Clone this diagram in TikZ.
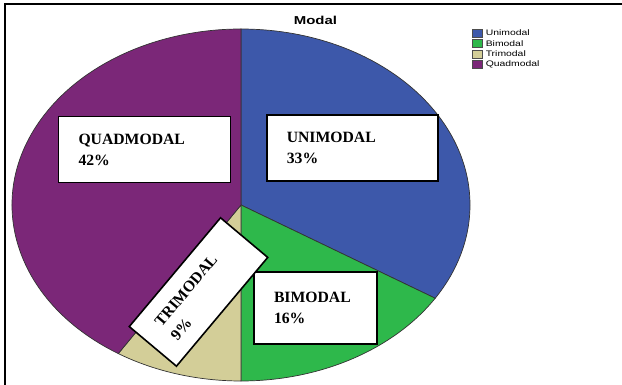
\documentclass[tikz,border=0pt]{standalone}
\usepackage{fontspec}
\setmainfont{Liberation Serif}
\newfontfamily\legfont{Liberation Sans}
\usepackage{xcolor}
\usepackage{tikz}

\definecolor{unicol}{HTML}{3D58AA}
\definecolor{bicol}{HTML}{2EB84B}
\definecolor{tricol}{HTML}{D3CE98}
\definecolor{quadcol}{HTML}{7B2778}

\begin{document}
\begin{tikzpicture}[x=1pt,y=1pt,
  slice/.style={draw=black!80,line width=0.7pt},
  labelbox/.style={draw,fill=white,line width=1.6pt,align=left,inner xsep=20pt,inner ysep=2pt,
    font=\bfseries\fontsize{15.7}{21}\selectfont},
  legbox/.style={draw=black!70,line width=0.5pt,minimum width=10pt,minimum height=8pt,inner sep=0pt},
  legtext/.style={anchor=west,inner sep=0pt,font=\legfont\fontsize{8}{9}\selectfont,xscale=1.3,transform shape}]
\useasboundingbox (0,0) rectangle (622,385);
\draw[line width=1.2pt] (5,0) -- (5,381) -- (622,381);

\node (title) at (315.5,365) {\legfont\bfseries\fontsize{11.5}{12}\selectfont\scalebox{1.3}[1]{Modal}};

% pie
\coordinate (c) at (241,180);
\filldraw[slice,fill=unicol] (c) -- ++(90:229 and 176) arc[start angle=90,end angle=-32,x radius=229,y radius=176] -- cycle;
\filldraw[slice,fill=bicol] (c) -- ++(-32:229 and 176) arc[start angle=-32,end angle=-90,x radius=229,y radius=176] -- cycle;
\filldraw[slice,fill=tricol] (c) -- ++(-90:229 and 176) arc[start angle=-90,end angle=-122.4,x radius=229,y radius=176] -- cycle;
\filldraw[slice,fill=quadcol] (c) -- ++(-122.4:229 and 176) arc[start angle=-122.4,end angle=-270,x radius=229,y radius=176] -- cycle;

% labels
\node[labelbox,text width=132pt,minimum height=66pt] (quad) at (144.5,235.3) {QUADMODAL\\42\%};
\node[labelbox,text width=131pt,minimum height=66pt] (uni) at (352.3,237) {UNIMODAL\\33\%};
\node[labelbox,text width=83pt,minimum height=72pt] (bi) at (315.5,77) {BIMODAL\\16\%};
\node[labelbox,text width=102pt,minimum height=61.6pt,rotate=50] (tri) at (198.5,93) {TRIMODAL\\9\%};

% legend
\node[legbox,fill=unicol] (l1) at (477,352) {};
\node[legbox,fill=bicol] (l2) at (477,341.5) {};
\node[legbox,fill=tricol] (l3) at (477,331) {};
\node[legbox,fill=quadcol] (l4) at (477,320.5) {};
\node[legtext] (t1) at (485.5,352) {Unimodal};
\node[legtext] (t2) at (485.5,341.5) {Bimodal};
\node[legtext] (t3) at (485.5,331) {Trimodal};
\node[legtext] (t4) at (485.5,320.5) {Quadmodal};
\end{tikzpicture}
\end{document}
